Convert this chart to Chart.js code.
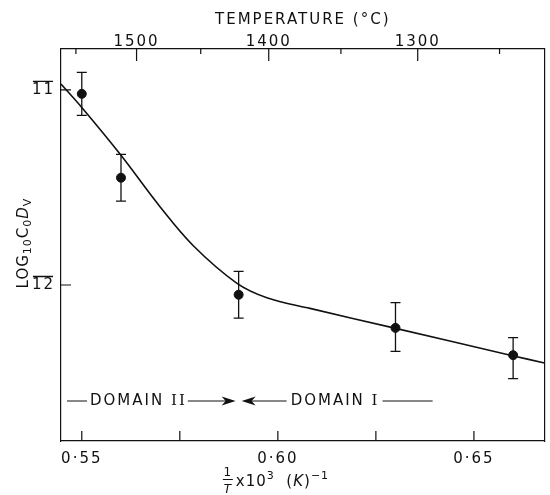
<!DOCTYPE html>
<html>
<head>
<meta charset="utf-8">
<script src="https://cdn.jsdelivr.net/npm/chart.js@4.4.1/dist/chart.umd.min.js"></script>
<style>
  html, body { margin: 0; padding: 0; background: #fff; }
  #wrap { width: 550px; height: 495px; }
</style>
</head>
<body>
<div id="wrap"><canvas id="diffChart"></canvas></div>
<script>
// measured points: 1/T x10^3 against log10(C0 Dv)
const invT = [0.550, 0.560, 0.590, 0.630, 0.660];
const logCD = [-11.02, -11.45, -12.05, -12.22, -12.36];
const errHigh = [-10.91, -11.33, -11.93, -12.09, -12.27];
const errLow = [-11.13, -11.57, -12.17, -12.34, -12.48];

// fitted curve
const curveX = [0.5447, 0.550, 0.5598, 0.570, 0.5785, 0.5895, 0.5972, 0.6082, 0.6295, 0.6593, 0.668];
const curveY = [-10.97, -11.09, -11.33, -11.60, -11.80, -11.99, -12.065, -12.12, -12.22, -12.36, -12.40];

const bottomTicks = [0.55, 0.575, 0.60, 0.625, 0.65];
const bottomLabels = ['0·55', '', '0·60', '', '0·65'];
const tempTicks = [1550, 1500, 1450, 1400, 1350, 1300, 1250];
const tempLabels = ['', '1500', '', '1400', '', '1300', ''];
const yTicks = [-11, -12];
const yLabels = ['11', '12'];   // negative characteristics, bar drawn over them
const domainEdge = 0.59;

const fam = '"DejaVu Sans", sans-serif';
const ink = '#111';

const figurePlugin = {
  id: 'figure',
  beforeDraw(chart) {
    chart.ctx.letterSpacing = '2px';
  },
  afterDatasetsDraw(chart) {
    const ctx = chart.ctx, x = chart.scales.x, y = chart.scales.y;
    ctx.save();
    ctx.strokeStyle = ink;
    ctx.lineWidth = 1.3;
    invT.forEach((v, i) => {
      const px = x.getPixelForValue(v);
      const top = y.getPixelForValue(errHigh[i]);
      const bot = y.getPixelForValue(errLow[i]);
      ctx.beginPath();
      ctx.moveTo(px, top); ctx.lineTo(px, bot);
      ctx.moveTo(px - 5, top); ctx.lineTo(px + 5, top);
      ctx.moveTo(px - 5, bot); ctx.lineTo(px + 5, bot);
      ctx.stroke();
    });
    ctx.restore();
  },
  afterDraw(chart) {
    const ctx = chart.ctx, a = chart.chartArea;
    const x = chart.scales.x, xt = chart.scales.xTop, y = chart.scales.y;
    ctx.save();
    ctx.strokeStyle = ink;
    ctx.fillStyle = ink;
    ctx.lineWidth = 1.2;
    // inward tick marks
    ctx.beginPath();
    x.ticks.forEach(t => {
      const px = x.getPixelForValue(t.value);
      ctx.moveTo(px, a.bottom); ctx.lineTo(px, a.bottom - 10);
    });
    xt.ticks.forEach((t, i) => {
      const px = xt.getPixelForValue(t.value);
      ctx.moveTo(px, a.top); ctx.lineTo(px, a.top + (tempLabels[i] ? 12 : 5));
    });
    y.ticks.forEach(t => {
      const py = y.getPixelForValue(t.value);
      ctx.moveTo(a.left, py); ctx.lineTo(a.left + 10, py);
    });
    ctx.stroke();

    // bars over the y tick labels
    ctx.letterSpacing = '0px';
    ctx.font = '15px ' + fam;
    ctx.beginPath();
    ctx.lineWidth = 1.3;
    y.ticks.forEach((t, i) => {
      const py = y.getPixelForValue(t.value);
      const w = ctx.measureText(yLabels[i]).width + 2;
      const r = a.left - 8;
      ctx.moveTo(r - w + 1, py - 8.5); ctx.lineTo(r, py - 8.5);
    });
    ctx.stroke();

    // y title with subscripts
    ctx.letterSpacing = '1px';
    const parts = [
      ['LOG', 'normal', 15, 0], ['10', 'normal', 11, 4], ['C', 'normal', 15, 0],
      ['0', 'normal', 11, 4], ['D', 'italic', 15, 0], ['V', 'normal', 11, 4]
    ];
    let total = 0;
    parts.forEach(p => { ctx.font = p[1] + ' ' + p[2] + 'px ' + fam; total += ctx.measureText(p[0]).width; });
    ctx.save();
    ctx.translate(24, 243);
    ctx.rotate(-Math.PI / 2);
    ctx.textBaseline = 'middle';
    ctx.textAlign = 'left';
    let cx = -total / 2;
    parts.forEach(p => {
      ctx.font = p[1] + ' ' + p[2] + 'px ' + fam;
      ctx.fillText(p[0], cx, p[3]);
      cx += ctx.measureText(p[0]).width;
    });
    ctx.restore();

    // x title: 1/T x10^3 (K)^-1
    const fx = x.getPixelForValue(0.60) - 50;
    ctx.textBaseline = 'alphabetic';
    ctx.textAlign = 'center';
    ctx.font = '12px ' + fam;
    ctx.fillText('1', fx, 476);
    ctx.font = 'italic 12px ' + fam;
    ctx.fillText('T', fx, 493);
    ctx.beginPath();
    ctx.lineWidth = 1;
    ctx.moveTo(fx - 5, 479.5); ctx.lineTo(fx + 5, 479.5);
    ctx.stroke();
    ctx.textAlign = 'left';
    let tx = fx + 8;
    const seg = (txt, font, dy) => {
      ctx.font = font + fam;
      ctx.fillText(txt, tx, 486 + dy);
      tx += ctx.measureText(txt).width;
    };
    seg('x10', '15px ', 0);
    seg('3', '11px ', -7);
    seg('  (', '15px ', 0);
    seg('K', 'italic 15px ', 0);
    seg(')', '15px ', 0);
    seg('\u22121', '11px ', -7);

    // domain annotation
    ctx.letterSpacing = '2px';
    const dy = a.bottom - 40;
    const bx = x.getPixelForValue(domainEdge);
    ctx.lineWidth = 1;
    ctx.textBaseline = 'middle';
    ctx.font = '15px ' + fam;
    let lx = a.left + 29;
    ctx.fillText('DOMAIN ', lx, dy);
    lx += ctx.measureText('DOMAIN ').width;
    ctx.font = '15px "DejaVu Serif", serif';
    ctx.fillText('II', lx, dy);
    lx += ctx.measureText('II').width;
    ctx.beginPath();
    ctx.moveTo(a.left + 6, dy); ctx.lineTo(a.left + 26, dy);
    ctx.moveTo(lx + 1, dy); ctx.lineTo(bx - 12, dy);
    ctx.moveTo(bx + 12, dy); ctx.lineTo(bx + 48, dy);
    ctx.stroke();
    ctx.beginPath();
    ctx.moveTo(bx - 3, dy); ctx.lineTo(bx - 17, dy - 4.5); ctx.lineTo(bx - 13, dy); ctx.lineTo(bx - 17, dy + 4.5); ctx.closePath();
    ctx.moveTo(bx + 3, dy); ctx.lineTo(bx + 17, dy - 4.5); ctx.lineTo(bx + 13, dy); ctx.lineTo(bx + 17, dy + 4.5); ctx.closePath();
    ctx.fill();
    let rx = bx + 52;
    ctx.font = '15px ' + fam;
    ctx.fillText('DOMAIN ', rx, dy);
    rx += ctx.measureText('DOMAIN ').width;
    ctx.font = '15px "DejaVu Serif", serif';
    ctx.fillText('I', rx, dy);
    rx += ctx.measureText('I').width;
    ctx.beginPath();
    ctx.moveTo(rx + 3, dy); ctx.lineTo(bx + 194, dy);
    ctx.stroke();
    ctx.restore();
  }
};

const noGrid = { display: false, drawTicks: false };
const edge = { display: true, color: ink, width: 1.2 };

new Chart(document.getElementById('diffChart'), {
  data: {
    datasets: [
      {
        type: 'line',
        data: curveX.map((v, i) => ({ x: v, y: curveY[i] })),
        borderColor: ink,
        borderWidth: 1.6,
        pointRadius: 0,
        tension: 0.35,
        fill: false
      },
      {
        type: 'scatter',
        data: invT.map((v, i) => ({ x: v, y: logCD[i] })),
        backgroundColor: ink,
        borderColor: ink,
        pointRadius: 4.5
      }
    ]
  },
  options: {
    responsive: true,
    maintainAspectRatio: false,
    animation: false,
    layout: { padding: 0 },
    plugins: { legend: { display: false }, tooltip: { enabled: false } },
    scales: {
      x: {
        type: 'linear', position: 'bottom', min: 0.5447, max: 0.668, bounds: 'data',
        afterBuildTicks: s => { s.ticks = bottomTicks.map(v => ({ value: v })); },
        afterFit: s => { s.height = 54; },
        ticks: { callback: (v, i) => bottomLabels[i], color: ink, font: { family: fam, size: 15 }, padding: 9, maxRotation: 0, autoSkip: false },
        grid: noGrid, border: edge
      },
      xTop: {
        type: 'linear', position: 'top', min: 0.5447, max: 0.668, bounds: 'data',
        afterBuildTicks: s => { s.ticks = tempTicks.map(t => ({ value: 1000 / (t + 273.15) })); },
        afterFit: s => { s.height = 49; },
        ticks: { callback: (v, i) => tempLabels[i], color: ink, font: { family: fam, size: 15 }, padding: -2, maxRotation: 0, autoSkip: false },
        title: { display: true, text: 'TEMPERATURE (°C)', color: ink, font: { family: fam, size: 15 }, padding: { top: 11, bottom: 0 } },
        grid: noGrid, border: edge
      },
      y: {
        type: 'linear', position: 'left', min: -12.8, max: -10.79, bounds: 'data',
        afterBuildTicks: s => { s.ticks = yTicks.map(v => ({ value: v })); },
        afterFit: s => { s.width = 61; },
        ticks: { callback: (v, i) => yLabels[i], color: ink, font: { family: fam, size: 15 }, padding: 6, autoSkip: false },
        grid: noGrid, border: edge
      },
      yRight: {
        type: 'linear', position: 'right', min: -12.8, max: -10.79,
        afterFit: s => { s.width = 5; },
        ticks: { display: false },
        grid: noGrid, border: edge
      }
    }
  },
  plugins: [figurePlugin]
});
</script>
</body>
</html>
